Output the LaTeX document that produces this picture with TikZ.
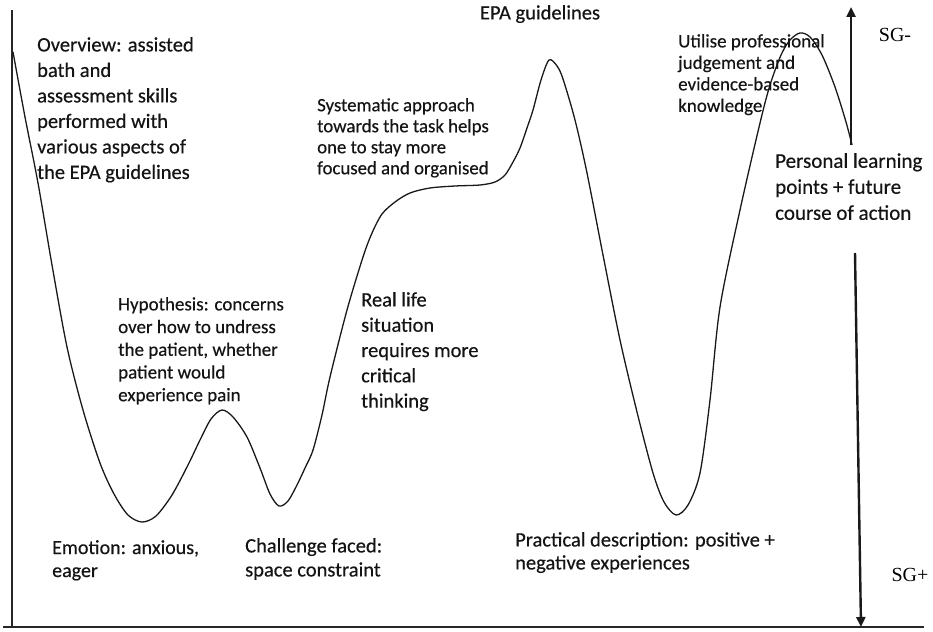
\documentclass[tikz,border=0pt]{standalone}
\usepackage{fontspec}
\setmainfont{Carlito}
\newfontfamily\lblfont{Carlito}[FakeBold=0.4]
\newfontfamily\sgfont{Liberation Serif}
\usetikzlibrary{arrows.meta}
\begin{document}
\begin{tikzpicture}[x=1pt,y=-1pt,
  lbl/.style={anchor=north west, inner sep=0pt, align=left, text=black!92},
  fs/.style 2 args={lbl, font=\lblfont\fontsize{#1}{#2}\selectfont},
  sg/.style={inner sep=0pt, font=\sgfont\fontsize{20}{22}\selectfont},
  axis/.style={line width=2.2pt, black!85},
  curve/.style={line width=1.3pt, black!90},
  bigarrow/.style={line width=2.4pt, black!90, -{Triangle[width=9pt,length=10pt]}}]
\useasboundingbox (0,0) rectangle (933,631);

% axes
\coordinate (ytop) at (12,10);
\coordinate (orig) at (12,627);
\coordinate (xend) at (924,627);
\coordinate (xstart) at (3,627);
\draw[axis] (ytop) -- (orig);
\draw[axis] (xstart) -- (xend);

% right arrows
\coordinate (upstart) at (851,145);
\coordinate (uptip) at (851,7);
\coordinate (dnstart) at (855,253);
\coordinate (dntip) at (861,627);
\draw[bigarrow] (upstart) -- (uptip);
\draw[bigarrow] (dnstart) -- (dntip);

% curve
\draw[curve] plot[smooth, tension=0.5] coordinates {
  (13,52) (25,117) (38,183) (52,265) (67,347) (83,410) (100,463)
  (114,494) (128,515) (142,522) (156,516) (172,495) (188,465)
  (200,440) (211,419) (222,410) (233,417) (247,437) (260,468)
  (270,494) (279,506) (288,501) (297,485) (305,468) (313,450)
  (322,415) (330,377) (347,310) (363,257) (372,233) (382,214)
  (395,202) (410,193) (430,188) (455,186) (480,185) (495,182)
  (505,175) (513,162) (520,148) (527,128) (533,110) (541,80)
  (549,60) (557,66) (563,79) (575,120) (587,173) (603,255)
  (620,340) (637,412) (653,473) (664,502) (676,515) (688,505)
  (700,473) (710,400) (720,307) (740,210) (760,123) (770,85)
  (781,55) (790,40) (800,33) (810,37) (822,55) (835,87)
  (846,122) (852,145)};

% labels
\node[fs={20.5}{25.5}] (overview) at (37,37) {Overview: assisted\\bath and\\assessment skills\\performed with\\various aspects of\\the EPA guidelines};
\node[fs={19}{22.7}] (hypo) at (118,297) {Hypothesis: concerns\\over how to undress\\the patient, whether\\patient would\\experience pain};
\node[fs={20}{23}] (emotion) at (52,540) {Emotion: anxious,\\eager};
\node[fs={20.5}{24}] (challenge) at (245,538) {Challenge faced:\\space constraint};
\node[fs={20.5}{25.3}] (reallife) at (361,292) {Real life\\situation\\requires more\\critical\\thinking};
\node[fs={18.8}{21}] (system) at (317,98) {Systematic approach\\towards the task helps\\one to stay more\\focused and organised};
\node[fs={20.5}{24}, anchor=north] (epa) at (540,5) {EPA guidelines};
\node[fs={19}{21.5}] (utilise) at (678,34) {Utilise professional\\judgement and\\evidence-based\\knowledge};
\node[fs={21}{26}] (personal) at (775,153) {Personal learning\\points + future\\course of action};
\node[fs={20.5}{23}] (practical) at (515,532) {Practical description: positive +\\negative experiences};
\node[sg] (sgminus) at (895,35) {SG-};
\node[sg] (sgplus) at (910,575) {SG+};
\end{tikzpicture}
\end{document}
